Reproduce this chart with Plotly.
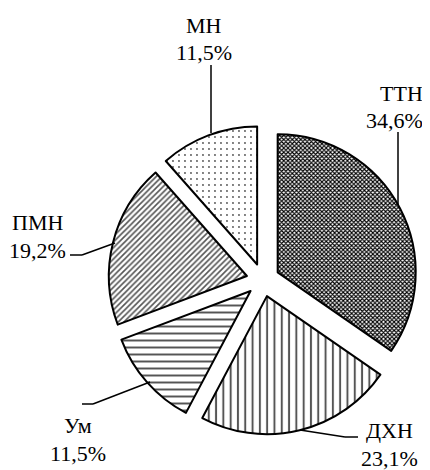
import plotly.graph_objects as go

labels = ["ТТН", "ДХН", "Ум", "ПМН", "МН"]
values = [34.6, 23.1, 11.5, 19.2, 11.5]
pct_text = ["34,6%", "23,1%", "11,5%", "19,2%", "11,5%"]

# page body has an 8px margin: figure is drawn at (8, 8) in the window
OFF = 8
W, H = 430 - OFF, 470 - OFF

def px(x):
    return (x - OFF) / W

def py(y):
    return 1 - (y - OFF) / H

cx, cy, half = 263, 280, 154.6
fig = go.Figure(go.Pie(
    labels=labels,
    values=values,
    sort=False,
    direction="clockwise",
    rotation=0,
    pull=[0.12] * 5,
    textinfo="none",
    hoverinfo="none",
    showlegend=False,
    domain=dict(x=[px(cx - half), px(cx + half)], y=[py(cy + half), py(cy - half)]),
    marker=dict(
        colors=["white"] * 5,
        line=dict(color="black", width=2),
        pattern=dict(
            shape=["x", "|", "-", "/", "."],
            fgcolor=["#000000", "#555555", "#555555", "#555555", "#555555"],
            bgcolor=["white"] * 5,
            size=[3, 7.3, 7, 4, 6],
            solidity=[0.6, 0.27, 0.28, 0.4, 0.08],
            fillmode="replace",
        ),
    ),
))

# label positions: (x, cap-centre y of line 1, cap-centre y of line 2, anchor)
label_pos = [
    (425, 92.5, 119.5, "right"),
    (389, 429, 457, "center"),
    (78, 424, 452, "center"),
    (37, 221, 249, "center"),
    (204, 24, 51.5, "center"),
]
font = dict(family="Liberation Serif, Times New Roman, serif", size=22, color="black")
annotations = []
for lab, pt, (x, y1, y2, al) in zip(labels, pct_text, label_pos):
    for txt, yy in ((lab, y1), (pt, y2)):
        annotations.append(dict(
            x=px(x), y=py(yy + 1), xref="paper", yref="paper",
            xanchor=al, yanchor="middle", align=al, showarrow=False,
            text=txt, font=font,
        ))

leaders = [
    [(398, 132), (398, 205)],
    [(300, 430), (345, 437), (358, 437)],
    [(82, 404), (93, 404), (150, 382)],
    [(70, 255), (82, 255), (115, 243)],
    [(211, 65), (211, 133)],
]
shapes = []
for pts in leaders:
    for (x0, y0), (x1, y1) in zip(pts[:-1], pts[1:]):
        shapes.append(dict(type="line", xref="paper", yref="paper",
                           x0=px(x0), y0=py(y0), x1=px(x1), y1=py(y1),
                           line=dict(color="black", width=1.5)))

fig.update_layout(
    width=W, height=H,
    margin=dict(l=0, r=0, t=0, b=0),
    paper_bgcolor="white",
    plot_bgcolor="white",
    annotations=annotations,
    shapes=shapes,
)

fig.write_html("out.html")
